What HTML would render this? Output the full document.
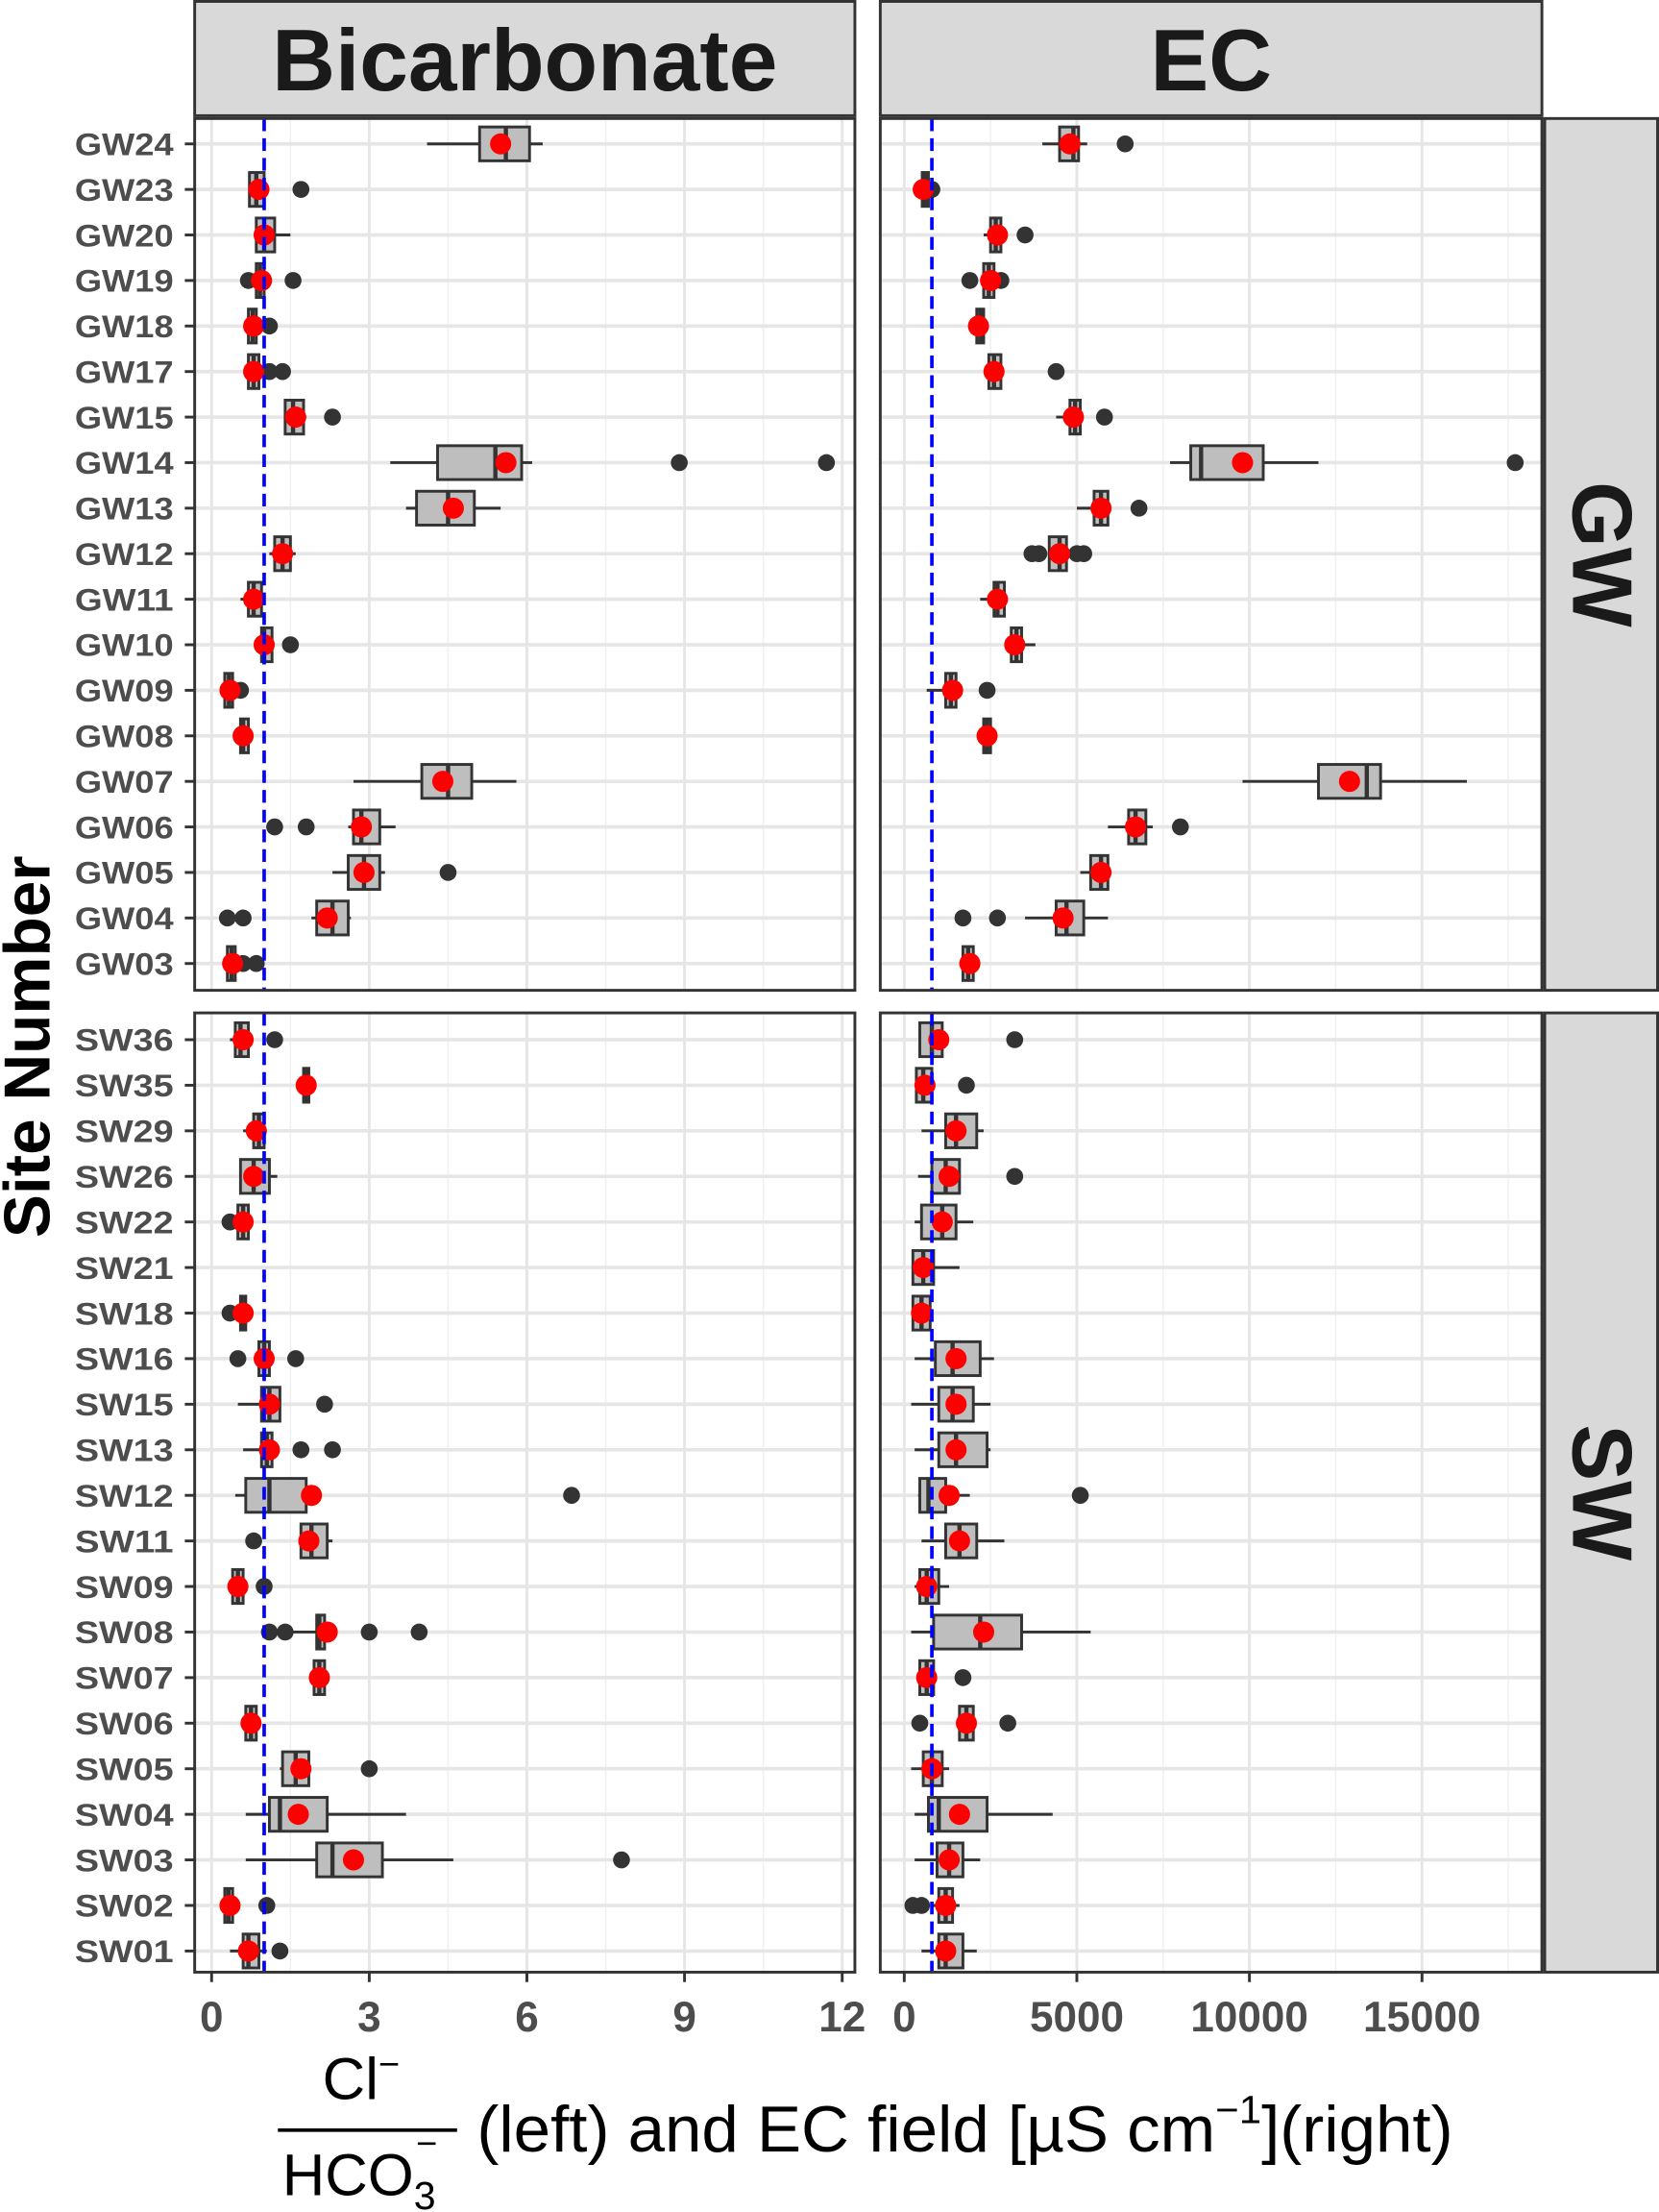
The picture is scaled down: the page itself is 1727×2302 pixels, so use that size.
<!DOCTYPE html>
<html><head><meta charset="utf-8"><style>
html,body{margin:0;padding:0;background:#fff}
svg{display:block}
text{font-family:"Liberation Sans",Arial,sans-serif}
</style></head><body>
<svg id="chart" xmlns="http://www.w3.org/2000/svg" width="1727" height="2302" viewBox="0 0 1176 1568" preserveAspectRatio="none">
<g id="root"></g>
</svg>
<script>
// ---- data ----
const gwSites=["GW24","GW23","GW20","GW19","GW18","GW17","GW15","GW14","GW13","GW12","GW11","GW10","GW09","GW08","GW07","GW06","GW05","GW04","GW03"];
const swSites=["SW36","SW35","SW29","SW26","SW22","SW21","SW18","SW16","SW15","SW13","SW12","SW11","SW09","SW08","SW07","SW06","SW05","SW04","SW03","SW02","SW01"];
// [whiskerLo, q1, median, q3, whiskerHi, mean]
const bicGW=[[4.1,5.1,5.6,6.05,6.3,5.5],[0.7,0.72,0.85,1.0,1.1,0.9],[0.8,0.85,1.0,1.2,1.5,1.0],[0.8,0.85,0.92,1.0,1.05,0.95],[0.7,0.7,0.78,0.85,0.9,0.8],[0.7,0.7,0.8,0.9,1.0,0.8],[1.4,1.4,1.55,1.75,1.8,1.6],[3.4,4.3,5.4,5.9,6.1,5.6],[3.7,3.9,4.5,5.0,5.5,4.6],[1.1,1.2,1.35,1.5,1.6,1.35],[0.55,0.7,0.8,0.95,1.0,0.8],[0.95,0.95,1.0,1.15,1.2,1.0],[0.2,0.25,0.33,0.4,0.45,0.35],[0.55,0.55,0.6,0.7,0.7,0.6],[2.7,4.0,4.5,4.95,5.8,4.4],[2.6,2.7,2.85,3.2,3.5,2.85],[2.3,2.6,2.9,3.2,3.3,2.9],[1.9,2.0,2.3,2.6,2.65,2.2],[0.3,0.3,0.38,0.45,0.5,0.4]];
const bicGWout=[[],[1.7],[],[0.7,1.55],[1.1],[1.1,1.35],[2.3],[8.9,11.7],[],[],[],[1.5],[0.55],[],[],[1.2,1.8],[4.5],[0.3,0.6],[0.6,0.85]];
const bicSW=[[0.35,0.45,0.55,0.7,0.75,0.6],[1.75,1.75,1.8,1.85,1.85,1.8],[0.6,0.8,0.9,1.0,1.05,0.85],[0.55,0.55,0.8,1.1,1.25,0.8],[0.5,0.5,0.6,0.7,0.7,0.6],null,[0.55,0.55,0.6,0.65,0.65,0.6],[0.9,0.9,1.0,1.1,1.1,1.0],[0.5,0.95,1.1,1.3,1.3,1.1],[0.6,0.95,1.05,1.15,1.2,1.1],[0.45,0.65,1.1,1.8,1.85,1.9],[1.7,1.7,1.9,2.2,2.3,1.85],[0.4,0.4,0.5,0.6,0.6,0.5],[1.0,2.0,2.05,2.15,2.15,2.2],[1.95,1.95,2.05,2.15,2.15,2.05],[0.65,0.65,0.75,0.85,0.85,0.75],[1.3,1.35,1.6,1.85,1.85,1.7],[0.65,1.1,1.3,2.2,3.7,1.65],[0.65,2.0,2.3,3.25,4.6,2.7],[0.25,0.25,0.32,0.4,0.4,0.35],[0.35,0.6,0.7,0.9,1.05,0.7]];
const bicSWout=[[1.2],[],[],[],[0.35],[],[0.35],[0.5,1.6],[2.15],[1.7,2.3],[6.85],[0.8],[1.0],[1.1,1.4,3.0,3.95],[],[],[3.0],[],[7.8],[1.05],[1.3]];
const ecGW=[[4000,4500,4900,5050,5300,4800],[500,520,600,700,750,550],[2300,2500,2650,2800,2900,2700],[2300,2300,2450,2600,2650,2500],[2100,2100,2200,2300,2300,2150],[2300,2450,2600,2800,2850,2600],[4400,4800,4950,5100,5100,4900],[7700,8300,8600,10400,12000,9800],[5000,5500,5700,5900,5900,5700],[4200,4200,4500,4700,4800,4500],[2200,2600,2700,2900,3000,2700],[3100,3100,3250,3400,3800,3200],[650,1200,1350,1500,1500,1400],[2300,2300,2400,2500,2500,2400],[9800,12000,13400,13800,16300,12900],[5900,6500,6700,7000,7200,6700],[5100,5400,5700,5900,6000,5700],[3500,4400,4700,5200,5900,4600],[1700,1700,1850,2000,2000,1900]];
const ecGWout=[[6400],[800],[3500],[1900,2800],[],[4400],[5800],[17700],[6800],[3700,3900,5000,5200],[],[],[2400],[],[],[8000],[],[1700,2700],[]];
const ecSW=[[450,450,800,1100,1100,1000],[350,350,550,800,800,600],[500,1200,1500,2100,2300,1500],[400,800,1200,1600,1600,1300],[300,500,1100,1500,2000,1100],[250,250,550,850,1600,550],[250,250,500,750,750,500],[300,900,1400,2200,2600,1500],[200,1000,1400,2000,2500,1500],[300,1000,1500,2400,2500,1500],[400,450,700,1200,1900,1300],[500,1200,1600,2100,2900,1600],[300,450,650,1000,1300,650],[200,850,2200,3400,5400,2300],[450,450,650,850,850,650],[1600,1600,1800,2000,2000,1800],[200,550,800,1100,1300,800],[300,700,1000,2400,4300,1600],[300,950,1300,1700,2200,1300],[800,1000,1200,1400,1600,1200],[500,1000,1200,1700,2100,1200]];
const ecSWout=[[3200],[1800],[],[3200],[],[],[],[],[],[],[5100],[],[],[],[1700],[450,3000],[],[],[],[250,500],[]];
const leftTicks=[0,3,6,9,12];
const rightTicks=[0,5000,10000,15000];
const leftRef=1.0, rightRef=800;

// ---- layout ----
const NS="http://www.w3.org/2000/svg";
const root=document.getElementById('root');
function mk(tag,attrs,parent,txt){const e=document.createElementNS(NS,tag);for(const k in attrs)e.setAttribute(k,attrs[k]);if(txt!==undefined)e.textContent=txt;(parent||root).appendChild(e);return e;}
const xL=v=>150+v*(597-150)/12;
const xR=v=>641+v*(1008-641)/15000;
const panels={GW:{top:84,bot:702,y0:102,y1:683,sites:gwSites},SW:{top:718,bot:1398,y0:737,y1:1383,sites:swSites}};
const cols=[{x0:138,x1:606,sx:xL,ticks:leftTicks,minor:[1.5,4.5,7.5,10.5],ref:leftRef,data:{GW:[bicGW,bicGWout],SW:[bicSW,bicSWout]},name:'bicarbonate'},
 {x0:624,x1:1093,sx:xR,ticks:rightTicks,minor:[2500,7500,12500,17500],ref:rightRef,data:{GW:[ecGW,ecGWout],SW:[ecSW,ecSWout]},name:'ec'}];

for(const c of cols){
 for(const pk of ['GW','SW']){
  const p=panels[pk];
  const g=mk('g',{},root);
  
  
  const n=p.sites.length, step=(p.y1-p.y0)/(n-1);
  const sy=i=>p.y0+i*step;
  mk('rect',{x:c.x0,y:p.top,width:c.x1-c.x0,height:p.bot-p.top,fill:'#fff'},g);
  for(const m of c.minor){const x=c.sx(m);if(x<c.x1)mk('line',{x1:x,x2:x,y1:p.top,y2:p.bot,stroke:'#f0f0f0','stroke-width':1},g);}
  for(const t of c.ticks)mk('line',{x1:c.sx(t),x2:c.sx(t),y1:p.top,y2:p.bot,stroke:'#e6e6e6','stroke-width':2},g);
  p.sites.forEach((s,i)=>mk('line',{x1:c.x0,x2:c.x1,y1:sy(i),y2:sy(i),stroke:'#e6e6e6','stroke-width':2.5},g));
  const [stats,outs]=c.data[pk];
  stats.forEach((d,i)=>{
   if(!d)return;
   const y=sy(i);
   const b=mk('g',{},g);
   
   
   mk('line',{x1:c.sx(d[0]),x2:c.sx(d[4]),y1:y,y2:y,stroke:'#333','stroke-width':2},b);
   mk('rect',{x:c.sx(d[1]),y:y-12,width:Math.max(2,c.sx(d[3])-c.sx(d[1])),height:24,fill:'#bebebe',stroke:'#333','stroke-width':2},b);
   mk('line',{x1:c.sx(d[2]),x2:c.sx(d[2]),y1:y-12,y2:y+12,stroke:'#333','stroke-width':3},b);
   for(const o of outs[i]){const oc=mk('circle',{cx:c.sx(o),cy:y,r:6,fill:'#333'},b);}
   const mc=mk('circle',{cx:c.sx(d[5]),cy:y,r:7.5,fill:'#ff0000'},b);
   
   
  });
  const rl=mk('line',{x1:c.sx(c.ref),x2:c.sx(c.ref),y1:p.top,y2:p.bot,stroke:'#0000ff','stroke-width':2.5,'stroke-dasharray':'9,5'},g);
  
  
  mk('rect',{x:c.x0,y:p.top,width:c.x1-c.x0,height:p.bot-p.top,fill:'none',stroke:'#333','stroke-width':2},g);
  if(c===cols[0]){
   p.sites.forEach((s,i)=>{
    const t=mk('text',{x:123,y:sy(i)+8,'text-anchor':'end','font-size':22,'font-weight':'bold',fill:'#4d4d4d',textLength:70,lengthAdjust:'spacingAndGlyphs'},root,s);
    
    
    mk('line',{x1:131,x2:138,y1:sy(i),y2:sy(i),stroke:'#333','stroke-width':2});
   });
  }
 }
 for(const t of c.ticks){
  mk('line',{x1:c.sx(t),x2:c.sx(t),y1:1398,y2:1405,stroke:'#333','stroke-width':2});
  const tl=mk('text',{x:c.sx(t),y:1440,'text-anchor':'middle','font-size':30,'font-weight':'bold',fill:'#4d4d4d'},root,String(t));
  
  
 }
 const st=mk('g',{},root);
 
 
 mk('rect',{x:c.x0,y:1,width:c.x1-c.x0,height:81,fill:'#d9d9d9',stroke:'#333','stroke-width':2},st);
 mk('text',{x:(c.x0+c.x1)/2,y:64,'text-anchor':'middle','font-size':62,'font-weight':'bold',fill:'#1a1a1a'},st,c===cols[0]?'Bicarbonate':'EC');
}
// right strips
[['GW',84,702],['SW',718,1398]].forEach(([lab,t,b])=>{
 const st=mk('g',{},root);
 
 
 mk('rect',{x:1095,y:t,width:80,height:b-t,fill:'#d9d9d9',stroke:'#333','stroke-width':2},st);
 const cy=(t+b)/2;
 mk('text',{x:1115,y:cy,'text-anchor':'middle','font-size':60,'font-weight':'bold',fill:'#1a1a1a',transform:`rotate(90 1115 ${cy})`},st,lab);
});
const yl=mk('text',{x:35,y:742,'text-anchor':'middle','font-size':46,'font-weight':'bold',fill:'#000',transform:'rotate(-90 35 742)'},root,'Site Number');


const xt=mk('g',{},root);


const t1=mk('text',{x:256,y:1488,'text-anchor':'middle','font-size':42,fill:'#000'},xt);
t1.innerHTML='Cl<tspan font-size="26" dy="-16">−</tspan>';
mk('line',{x1:197,x2:324,y1:1510,y2:1510,stroke:'#000','stroke-width':2.5},xt);
const t2=mk('text',{x:200,y:1556,'font-size':42,fill:'#000'},xt);
t2.innerHTML='HCO<tspan font-size="28" dy="10">3</tspan><tspan font-size="26" dx="-14" dy="-38">−</tspan>';
const t3=mk('text',{x:338,y:1525,'font-size':46,fill:'#000',textLength:692,lengthAdjust:'spacingAndGlyphs'},xt);
t3.innerHTML='(left) and EC field [µS cm<tspan font-size="28" dy="-20">−1</tspan><tspan dy="20">](right)</tspan>';
</script>
</body></html>
